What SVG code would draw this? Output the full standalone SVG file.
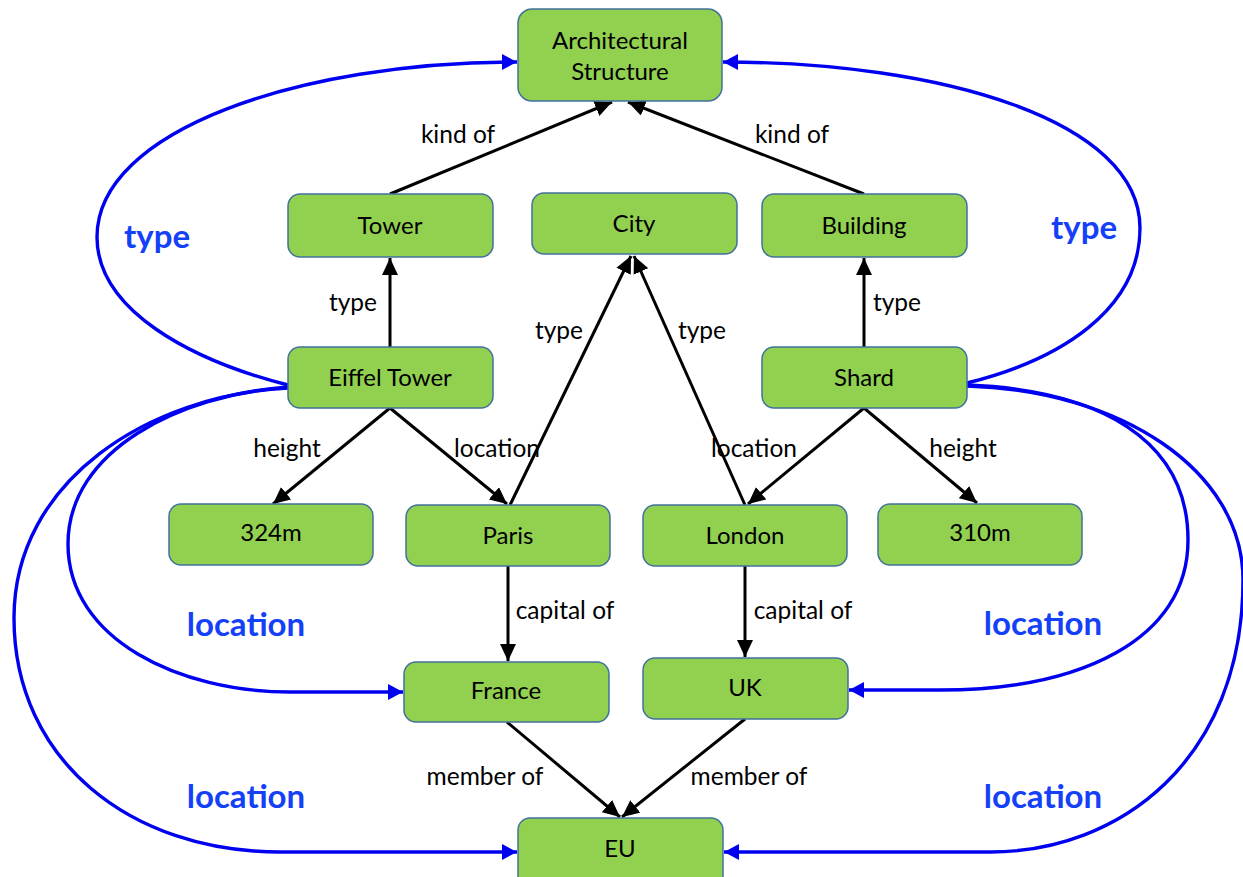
<svg xmlns="http://www.w3.org/2000/svg" width="1243" height="877" viewBox="0 0 1243 877">
  <style>
    .node rect { fill: #92d050; stroke: #41719c; stroke-width: 1.5; }
    .node text { font-family: Lato, "Open Sans", sans-serif; font-size: 24px; fill: #000; text-anchor: middle; }
    .edge { fill: none; stroke: #000; stroke-width: 3; marker-end: url(#arrowBlack); }
    .link { fill: none; stroke: #0000f0; stroke-width: 3.4; }
    .link.arrow { marker-end: url(#arrowBlue); }
    .lbl { font-family: Lato, "Open Sans", sans-serif; font-size: 24.5px; fill: #000; text-anchor: middle; }
    .blbl { font-family: Lato, "Open Sans", sans-serif; font-size: 33px; font-weight: bold; fill: #1440f8; text-anchor: middle; }
  </style>
  <defs>
    <marker id="arrowBlack" markerUnits="userSpaceOnUse" markerWidth="18" markerHeight="16" refX="17" refY="8" orient="auto">
      <path d="M0,0 L17,8 L0,16 z" fill="#000"/>
    </marker>
    <marker id="arrowBlue" markerUnits="userSpaceOnUse" markerWidth="16" markerHeight="16" refX="15" refY="8" orient="auto">
      <path d="M0,0 L15,8 L0,16 z" fill="#0000f0"/>
    </marker>
  </defs>

  <rect width="1243" height="877" fill="#fff"/>

  <g id="connectors">
    <!-- black relations -->
    <path class="edge" d="M390,194 L612,102"/>
    <path class="edge" d="M864,194 L628,102"/>
    <path class="edge" d="M390,347 L390,258"/>
    <path class="edge" d="M864,347 L864,258"/>
    <path class="edge" d="M510,505 L631,256"/>
    <path class="edge" d="M745,505 L634,256"/>
    <path class="edge" d="M390,408 L273,504"/>
    <path class="edge" d="M390,408 L507,504"/>
    <path class="edge" d="M864,408 L748,504"/>
    <path class="edge" d="M864,408 L977,503"/>
    <path class="edge" d="M508,566 L508,661"/>
    <path class="edge" d="M745,566 L745,657"/>
    <path class="edge" d="M507,722 L620,817"/>
    <path class="edge" d="M745,719 L622,817"/>

    <!-- blue shortcut relations -->
    <path class="link arrow" d="M288,385 C190,360 97,310 97,237 C97,130 300,62 517,62"/>
    <path class="link arrow" d="M967,383 C1060,360 1140,310 1140,228 C1140,120 940,62 723,62"/>
    <path class="link arrow" d="M288,387 C180,395 68,450 68,544 C68,640 180,692 290,692 L403,692"/>
    <path class="link arrow" d="M288,388 C150,395 14,480 14,618 C14,760 130,852 280,852 L517,852"/>
    <path class="link arrow" d="M967,385 C1100,390 1188,440 1188,540 C1188,640 1080,690 940,690 L849,690"/>
    <path class="link arrow" d="M967,386 C1120,390 1243,470 1243,580 C1243,760 1120,852 990,852 L724,852"/>

    <!-- edge labels -->
    <text class="lbl" x="458" y="143">kind of</text>
    <text class="lbl" x="792" y="143">kind of</text>
    <text class="lbl" x="353" y="311">type</text>
    <text class="lbl" x="897" y="311">type</text>
    <text class="lbl" x="559" y="339">type</text>
    <text class="lbl" x="702" y="339">type</text>
    <text class="lbl" x="287" y="457">height</text>
    <text class="lbl" x="497" y="457">location</text>
    <text class="lbl" x="754" y="457">location</text>
    <text class="lbl" x="963" y="457">height</text>
    <text class="lbl" x="565" y="619">capital of</text>
    <text class="lbl" x="803" y="619">capital of</text>
    <text class="lbl" x="485" y="785">member of</text>
    <text class="lbl" x="749" y="785">member of</text>

    <text class="blbl" x="157" y="248">type</text>
    <text class="blbl" x="1084" y="239">type</text>
    <text class="blbl" x="246" y="636">location</text>
    <text class="blbl" x="1043" y="635">location</text>
    <text class="blbl" x="246" y="808">location</text>
    <text class="blbl" x="1043" y="808">location</text>
  </g>

  <g id="arch" class="node">
    <rect x="518" y="9" width="204" height="92" rx="14"/>
    <text x="620" y="49">Architectural</text>
    <text x="620" y="80">Structure</text>
  </g>
  <g id="tower" class="node">
    <rect x="288" y="194" width="205" height="63" rx="12"/>
    <text x="390" y="234">Tower</text>
  </g>
  <g id="city" class="node">
    <rect x="532" y="193" width="205" height="61" rx="12"/>
    <text x="634" y="232">City</text>
  </g>
  <g id="building" class="node">
    <rect x="762" y="194" width="205" height="63" rx="12"/>
    <text x="864" y="234">Building</text>
  </g>
  <g id="eiffel" class="node">
    <rect x="288" y="347" width="205" height="61" rx="12"/>
    <text x="390" y="386">Eiffel Tower</text>
  </g>
  <g id="shard" class="node">
    <rect x="762" y="347" width="205" height="61" rx="12"/>
    <text x="864" y="386">Shard</text>
  </g>
  <g id="h324" class="node">
    <rect x="169" y="504" width="204" height="61" rx="12"/>
    <text x="271" y="541">324m</text>
  </g>
  <g id="paris" class="node">
    <rect x="406" y="505" width="204" height="61" rx="12"/>
    <text x="508" y="544">Paris</text>
  </g>
  <g id="london" class="node">
    <rect x="643" y="505" width="204" height="61" rx="12"/>
    <text x="745" y="544">London</text>
  </g>
  <g id="h310" class="node">
    <rect x="878" y="504" width="204" height="61" rx="12"/>
    <text x="980" y="541">310m</text>
  </g>
  <g id="france" class="node">
    <rect x="404" y="662" width="205" height="60" rx="12"/>
    <text x="506" y="699">France</text>
  </g>
  <g id="uk" class="node">
    <rect x="643" y="658" width="205" height="61" rx="12"/>
    <text x="745" y="696">UK</text>
  </g>
  <g id="eu" class="node">
    <rect x="518" y="818" width="205" height="70" rx="12"/>
    <text x="620" y="857">EU</text>
  </g>
</svg>
